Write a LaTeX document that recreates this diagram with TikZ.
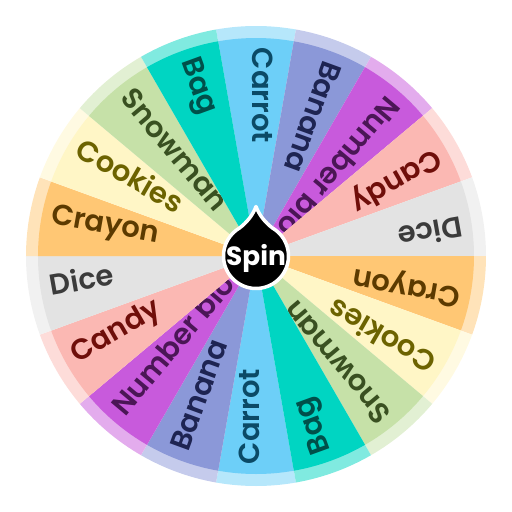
\documentclass[tikz,border=0pt]{standalone}
\usepackage{fontspec}
\usepackage{tikz}
\usetikzlibrary{positioning}
\usepackage{xcolor}
\newfontfamily\wheelfont{Poppins SemiBold}
\newfontfamily\spinfont{Poppins Bold}

\definecolor{carrot}{HTML}{6DCFF8}
\definecolor{banana}{HTML}{8B98D8}
\definecolor{numb}{HTML}{C85ADC}
\definecolor{candy}{HTML}{FBB8B3}
\definecolor{dice}{HTML}{E3E3E3}
\definecolor{crayon}{HTML}{FFC774}
\definecolor{cookies}{HTML}{FFF6C6}
\definecolor{snowman}{HTML}{C6E1A8}
\definecolor{bag}{HTML}{00D5C2}
\definecolor{carrottxt}{HTML}{0B4A66}
\definecolor{bananatxt}{HTML}{1E2452}
\definecolor{numbtxt}{HTML}{4B1656}
\definecolor{candytxt}{HTML}{6F0E0A}
\definecolor{dicetxt}{HTML}{3B3B3B}
\definecolor{crayontxt}{HTML}{5C3A00}
\definecolor{cookiestxt}{HTML}{6C6300}
\definecolor{snowmantxt}{HTML}{395021}
\definecolor{bagtxt}{HTML}{00504A}

\begin{document}
\begin{tikzpicture}[
    wlabel/.style={anchor=mid west, inner sep=0pt, font=\wheelfont\fontsize{16.5}{20}\selectfont}
  ]
  \useasboundingbox (-5.12,-5.12) rectangle (5.12,5.12); % page size

  % the 18 slices, each name twice
  \foreach \lab/\col [count=\j from 0] in {Carrot/carrot, Banana/banana, Number blo/numb, Candy/candy, Dice/dice, Crayon/crayon, Cookies/cookies, Snowman/snowman, Bag/bag}{
    \foreach \k in {0,1}{
      \pgfmathsetmacro\mid{90-20*\j-180*\k}
      \fill[\col!50!white] (0,0) -- (\mid-10:4.6) arc[start angle=\mid-10, end angle=\mid+10, radius=4.6] -- cycle; % faint rim
      \fill[\col] (0,0) -- (\mid-10:4.36) arc[start angle=\mid-10, end angle=\mid+10, radius=4.36] -- cycle; % slice
      \node[wlabel, text=\col txt, rotate=\mid+180] (l\j\k) at (\mid:4.17) {\lab};
    }
  }

  % the hub with its pointer
  \filldraw[fill=black, draw=white, line width=0.07cm, line join=round]
    (120:0.65) .. controls (-0.2,0.66) and (-0.07,0.8) .. (0,0.99)
    .. controls (0.07,0.8) and (0.2,0.66) .. (60:0.65)
    arc[start angle=60, end angle=-240, radius=0.65] -- cycle;
  \node[anchor=base, text=white, font=\spinfont\fontsize{15}{18}\selectfont] (spin) at (0,-0.19) {Spin};
\end{tikzpicture}
\end{document}
